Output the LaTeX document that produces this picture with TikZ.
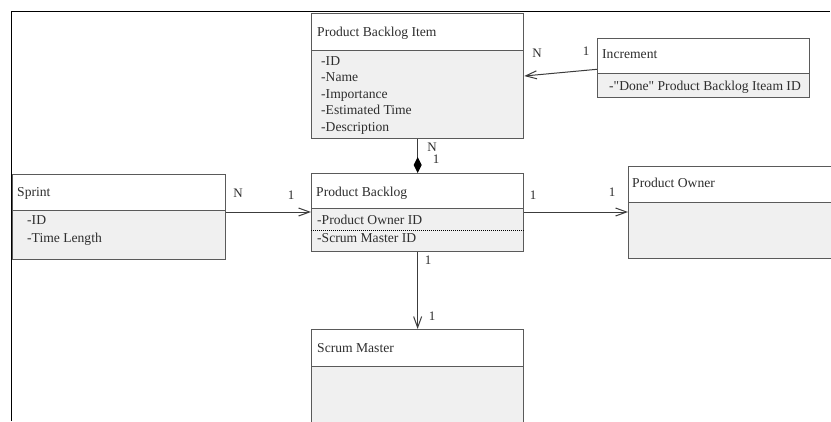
\documentclass[tikz,border=0pt]{standalone}
\usepackage{fontspec}
\setmainfont{Liberation Serif}[Ligatures=TeXOff]
\usetikzlibrary{arrows.meta,calc}
\definecolor{boxline}{HTML}{5A5A5A}
\definecolor{bodyfill}{HTML}{F0F0F0}
\definecolor{inkgray}{HTML}{2E2E2E}
\definecolor{linkline}{HTML}{3C3C3C}
\begin{document}
\begin{tikzpicture}[x=1pt,y=-1pt,
  classhead/.style={draw=boxline,line width=1.3pt,fill=white,rectangle,inner sep=0pt,anchor=north west},
  classbody/.style={draw=boxline,line width=1.3pt,fill=bodyfill,rectangle,inner sep=0pt,anchor=north west},
  txt/.style={anchor=base west,inner sep=0pt,text=inkgray,font=\fontsize{13.6}{16.5}\selectfont},
  mult/.style={anchor=base,inner sep=0pt,text=inkgray,font=\fontsize{13}{15}\selectfont},
  assoc/.style={draw=linkline,line width=1pt,-{Straight Barb[length=11pt,width=8pt,line width=1pt]}},
  compo/.style={draw=linkline,line width=1pt,-{Diamond[length=16pt,width=8pt,fill=black,black]}}
]
\clip (0,0) rectangle (831,421);
\fill[white] (0,0) rectangle (831,421);

% outer frame
\draw[black,line width=1.4pt] (11.5,421) -- (11.5,11.5) -- (830,11.5);

% Product Backlog Item
\node[classbody,minimum width=212pt,minimum height=88pt] (pbiB) at (311,50) {};
\node[classhead,minimum width=212pt,minimum height=37pt] (pbiH) at (311,13) {};
\node[txt] (pbiT) at (317,36) {Product Backlog Item};
\node[txt] (pbiA1) at (321,65) {-ID};
\node[txt] (pbiA2) at (321,81.5) {-Name};
\node[txt] (pbiA3) at (321,98) {-Importance};
\node[txt] (pbiA4) at (321,114.5) {-Estimated Time};
\node[txt] (pbiA5) at (321,131) {-Description};

% Increment
\node[classbody,minimum width=212pt,minimum height=24pt] (incB) at (597,73) {};
\node[classhead,minimum width=212pt,minimum height=35pt] (incH) at (597,38) {};
\node[txt] (incT) at (602,58) {Increment};
\node[txt] (incA1) at (609,90) {-"Done" Product Backlog Iteam ID};

% Sprint
\node[classbody,minimum width=213pt,minimum height=49pt] (sprB) at (12,210) {};
\node[classhead,minimum width=213pt,minimum height=36pt] (sprH) at (12,174) {};
\node[txt] (sprT) at (17,196) {Sprint};
\node[txt] (sprA1) at (27,224) {-ID};
\node[txt] (sprA2) at (27,242) {-Time Length};

% Product Backlog
\node[classbody,minimum width=212pt,minimum height=43pt] (pbB) at (311,208) {};
\node[classhead,minimum width=212pt,minimum height=35pt] (pbH) at (311,173) {};
\draw[black,line width=0.6pt,dash pattern=on 1.2pt off 0.8pt] (pbB.west |- 0,230) -- (pbB.east |- 0,230);
\node[txt] (pbT) at (316,196) {Product Backlog};
\node[txt] (pbA1) at (317,224) {-Product Owner ID};
\node[txt] (pbA2) at (317,242) {-Scrum Master ID};

% Product Owner
\node[classbody,minimum width=230pt,minimum height=56pt] (poB) at (628,202) {};
\node[classhead,minimum width=230pt,minimum height=36pt] (poH) at (628,166) {};
\node[txt] (poT) at (632,187) {Product Owner};

% Scrum Master
\node[classbody,minimum width=212pt,minimum height=80pt] (smB) at (311,366) {};
\node[classhead,minimum width=212pt,minimum height=37pt] (smH) at (311,329) {};
\node[txt] (smT) at (317,352) {Scrum Master};

% associations
\draw[assoc] ($(incH.south west)+(0,-5)$) -- ($(pbiB.north east)+(0,26)$);
\draw[compo] (pbiB.south) -- (pbH.north);
\draw[assoc] ($(sprB.north east)+(0,2)$) -- ($(pbB.north west)+(0,4)$);
\draw[assoc] ($(pbB.north east)+(0,4)$) -- ($(poB.north west)+(0,10)$);
\draw[assoc] (pbB.south) -- (smH.north);

% multiplicities
\node[mult] (m1) at (537,57) {N};
\node[mult] (m2) at (586,55) {1};
\node[mult] (m3) at (432,151) {N};
\node[mult] (m4) at (436,163) {1};
\node[mult] (m5) at (238,197) {N};
\node[mult] (m6) at (291,199) {1};
\node[mult] (m7) at (533,199) {1};
\node[mult] (m8) at (612,196) {1};
\node[mult] (m9) at (428,264) {1};
\node[mult] (m10) at (432,320) {1};
\end{tikzpicture}
\end{document}
